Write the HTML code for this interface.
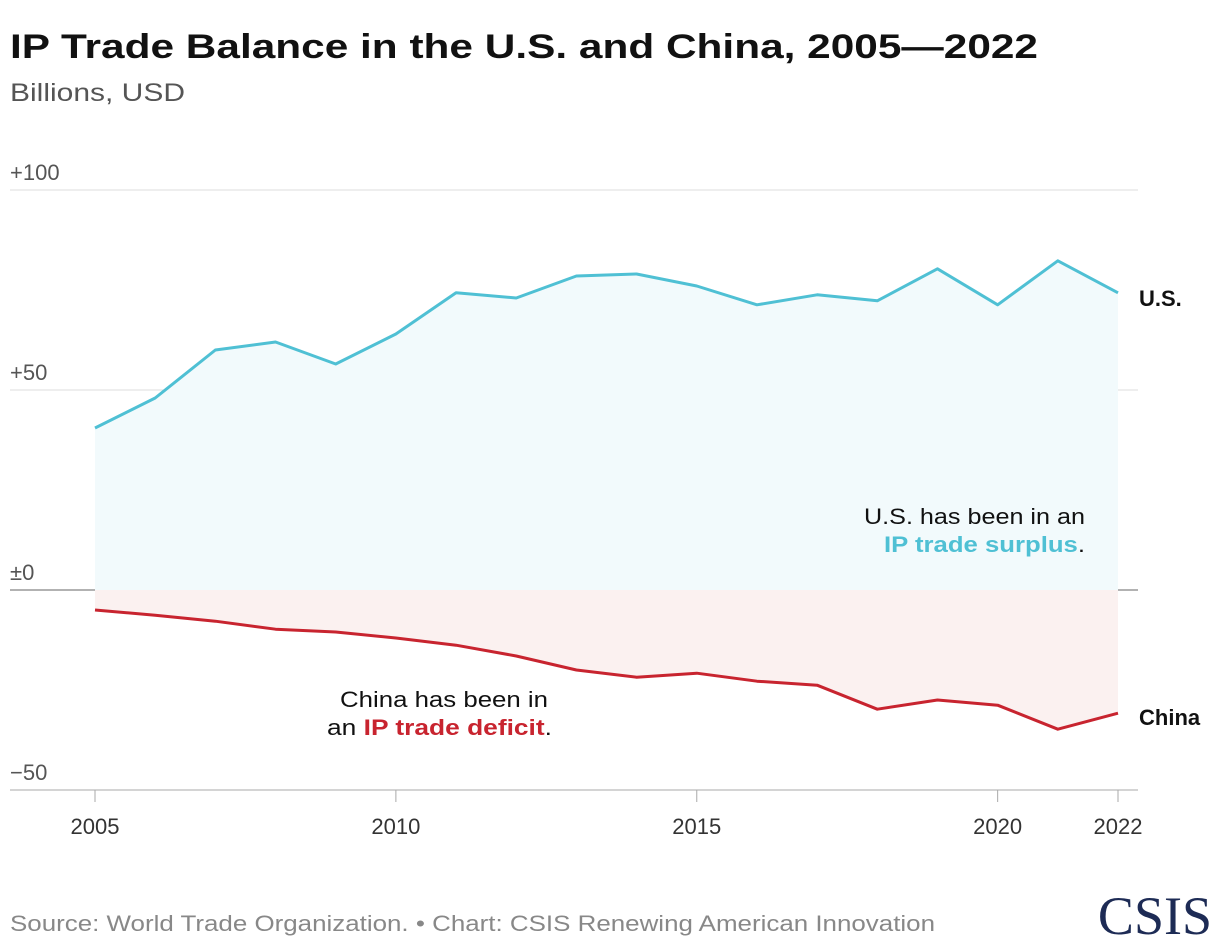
<!DOCTYPE html>
<html><head><meta charset="utf-8"><style>
body{margin:0;background:#fff;font-family:"Liberation Sans",sans-serif;}
svg{display:block}
</style></head><body>
<svg width="1220" height="948" id="chart">
<text x="10" y="58" font-size="34" font-weight="bold" fill="#111" textLength="1028" lengthAdjust="spacingAndGlyphs">IP Trade Balance in the U.S. and China, 2005—2022</text>
<text x="10" y="101" font-size="25" fill="#555" textLength="175" lengthAdjust="spacingAndGlyphs">Billions, USD</text>
<g id="grid"></g>
<g id="marks"></g>
<text x="1085" y="524" font-size="22" fill="#111" text-anchor="end" textLength="221" lengthAdjust="spacingAndGlyphs">U.S. has been in an</text>
<text x="1085" y="552" font-size="22" fill="#111" text-anchor="end" textLength="201" lengthAdjust="spacingAndGlyphs"><tspan fill="#4fc0d4" font-weight="bold">IP trade surplus</tspan>.</text>
<text x="548" y="707" font-size="22" fill="#111" text-anchor="end" textLength="208" lengthAdjust="spacingAndGlyphs">China has been in</text>
<text x="552" y="735" font-size="22" fill="#111" text-anchor="end" textLength="225" lengthAdjust="spacingAndGlyphs">an <tspan fill="#c8242f" font-weight="bold">IP trade deficit</tspan>.</text>
<text x="10" y="931" font-size="22" fill="#888" textLength="925" lengthAdjust="spacingAndGlyphs">Source: World Trade Organization. • Chart: CSIS Renewing American Innovation</text>
<text x="1212" y="934" font-size="54" fill="#1d2b55" text-anchor="end" font-family="Liberation Serif,serif">CSIS</text>
</svg>
<script>
const years=[2005,2006,2007,2008,2009,2010,2011,2012,2013,2014,2015,2016,2017,2018,2019,2020,2021,2022];
const usValues=[40.5,48,60,62,56.5,64,74.3,73,78.5,79,76,71.3,73.8,72.3,80.3,71.3,82.3,74.3];
const chinaValues=[-5,-6.3,-7.8,-9.8,-10.5,-12,-13.8,-16.5,-20,-21.8,-20.8,-22.8,-23.8,-29.8,-27.5,-28.8,-34.8,-30.8];
const yTicks=[100,50,0,-50];
const yTickLabels=["+100","+50","±0","−50"];
const xTicks=[2005,2010,2015,2020,2022];
const NS="http://www.w3.org/2000/svg";
const x=v=>95+(v-2005)*(1118-95)/17;
const y=v=>590-v*4;
function mk(tag,attrs,parent){const e=document.createElementNS(NS,tag);for(const k in attrs)e.setAttribute(k,attrs[k]);parent.appendChild(e);return e;}
const grid=document.getElementById('grid'),marks=document.getElementById('marks');
yTicks.forEach((t,i)=>{
  const l=mk('line',{x1:10,x2:1138,y1:y(t),y2:y(t),stroke:t===0?'#999':(t===-50?'#aaa':'#ddd'),'stroke-width':t===0?1.5:1},grid);
  
  
  const tx=mk('text',{x:10,y:y(t)-10,'font-size':22,fill:'#555'},grid);
  tx.textContent=yTickLabels[i];
  
  
});
xTicks.forEach(t=>{
  const l=mk('line',{x1:x(t),x2:x(t),y1:790,y2:802,stroke:'#aaa'},grid);
  
  
  const tx=mk('text',{x:x(t),y:834,'font-size':22,fill:'#333','text-anchor':'middle'},grid);
  tx.textContent=t;
  
  
});
function series(vals,color,fill,name,label,ly){
  const pts=years.map((yr,i)=>x(yr)+','+y(vals[i]));
  const area=mk('polygon',{points:x(years[0])+','+y(0)+' '+pts.join(' ')+' '+x(years[years.length-1])+','+y(0),fill:fill},marks);
  
  
  const line=mk('polyline',{points:pts.join(' '),fill:'none',stroke:color,'stroke-width':3,'stroke-linejoin':'round'},marks);
  
  
  const t=mk('text',{x:1139,y:y(vals[vals.length-1])+ly,'font-size':22,'font-weight':'bold',fill:'#111'},marks);
  t.textContent=label;
  
  
}
series(usValues,'#4fc0d4','#f2fafc','us','U.S.',13);
series(chinaValues,'#c8242f','#fbf1f0','china','China',12);
</script>
</body></html>
